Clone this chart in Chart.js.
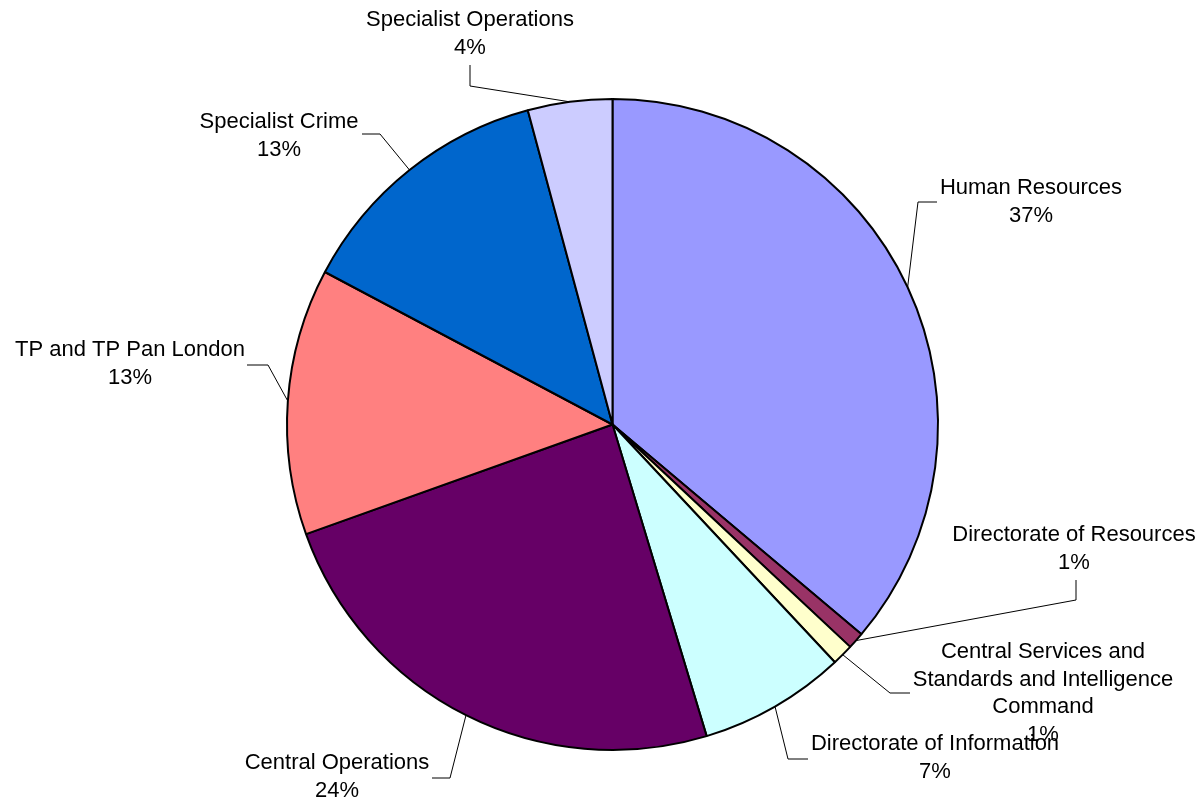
<!DOCTYPE html>
<html>
<head>
<meta charset="utf-8">
<script src="https://cdn.jsdelivr.net/npm/chart.js@4.4.1/dist/chart.umd.min.js"></script>
<style>
    html, body { margin: 0; padding: 0; background: #fff; }
    #wrap { width: 1204px; height: 803px; position: relative; }
</style>
</head>
<body>
<div id="wrap"><canvas id="pieChart"></canvas></div>
<script>
    // Data (clockwise from 12 o'clock)
    const categories = [
        'Human Resources',
        'Directorate of Resources',
        ['Central Services and', 'Standards and Intelligence', 'Command'],
        'Directorate of Information',
        'Central Operations',
        'TP and TP Pan London',
        'Specialist Crime',
        'Specialist Operations'
    ];
    const shares = [36.14, 0.83, 1.06, 7.30, 24.20, 13.23, 13.05, 4.19];
    // percentages as printed on the original chart
    const shownPercents = [37, 1, 1, 7, 24, 13, 13, 4];
    const sliceColors = ['#9999FF', '#993366', '#FFFFCC', '#CCFFFF', '#660066', '#FF8080', '#0066CC', '#CCCCFF'];

    // Where each label sits: text centre (x, first line y), leader elbow and leader end
    const labelLayout = [
        { x: 1031, y: 188, elbow: [918, 202], end: [937, 202] },
        { x: 1074, y: 535, elbow: [1076, 600], end: [1076, 580] },
        { x: 1043, y: 652, elbow: [890, 693], end: [910, 693] },
        { x: 935, y: 744, elbow: [788, 759], end: [808, 759] },
        { x: 337, y: 763, elbow: [450, 778], end: [432, 778] },
        { x: 130, y: 350, elbow: [268, 365], end: [247, 365] },
        { x: 279, y: 122, elbow: [380, 134], end: [362, 134] },
        { x: 470, y: 20, elbow: [470, 86], end: [470, 65] }
    ];

    const labelFont = "22px 'Liberation Sans', Arial, sans-serif";
    const lineStep = 27.5;

    const pieLabels = {
        id: 'pieLabels',
        afterDatasetsDraw(chart) {
            const ctx = chart.ctx;
            const arcs = chart.getDatasetMeta(0).data;
            ctx.save();
            arcs.forEach((arc, i) => {
                const lay = labelLayout[i];
                const p = arc.getProps(['x', 'y', 'startAngle', 'endAngle', 'outerRadius'], true);
                const mid = (p.startAngle + p.endAngle) / 2;
                const ax = p.x + Math.cos(mid) * p.outerRadius;
                const ay = p.y + Math.sin(mid) * p.outerRadius;

                // leader line
                ctx.strokeStyle = '#000';
                ctx.lineWidth = 1;
                ctx.beginPath();
                ctx.moveTo(ax, ay);
                ctx.lineTo(lay.elbow[0], lay.elbow[1]);
                ctx.lineTo(lay.end[0], lay.end[1]);
                ctx.stroke();

                // label text + percentage
                const name = chart.data.labels[i];
                const lines = Array.isArray(name) ? name.slice() : [name];
                lines.push(shownPercents[i] + '%');
                ctx.fillStyle = '#000';
                ctx.font = labelFont;
                ctx.textAlign = 'center';
                ctx.textBaseline = 'middle';
                lines.forEach((txt, k) => {
                    ctx.fillText(txt, lay.x, lay.y + k * lineStep);
                });
            });
            ctx.restore();
        }
    };

    document.addEventListener('DOMContentLoaded', function() {
        const ctx = document.getElementById('pieChart').getContext('2d');
        new Chart(ctx, {
            type: 'pie',
            data: {
                labels: categories,
                datasets: [{
                    data: shares,
                    backgroundColor: sliceColors,
                    borderColor: '#000',
                    borderWidth: 2
                }]
            },
            options: {
                responsive: true,
                maintainAspectRatio: false,
                animation: false,
                layout: {
                    padding: { top: 98, bottom: 52, left: 21, right: 0 }
                },
                plugins: {
                    legend: { display: false },
                    tooltip: { enabled: false }
                }
            },
            plugins: [pieLabels]
        });
    });
</script>
</body>
</html>
